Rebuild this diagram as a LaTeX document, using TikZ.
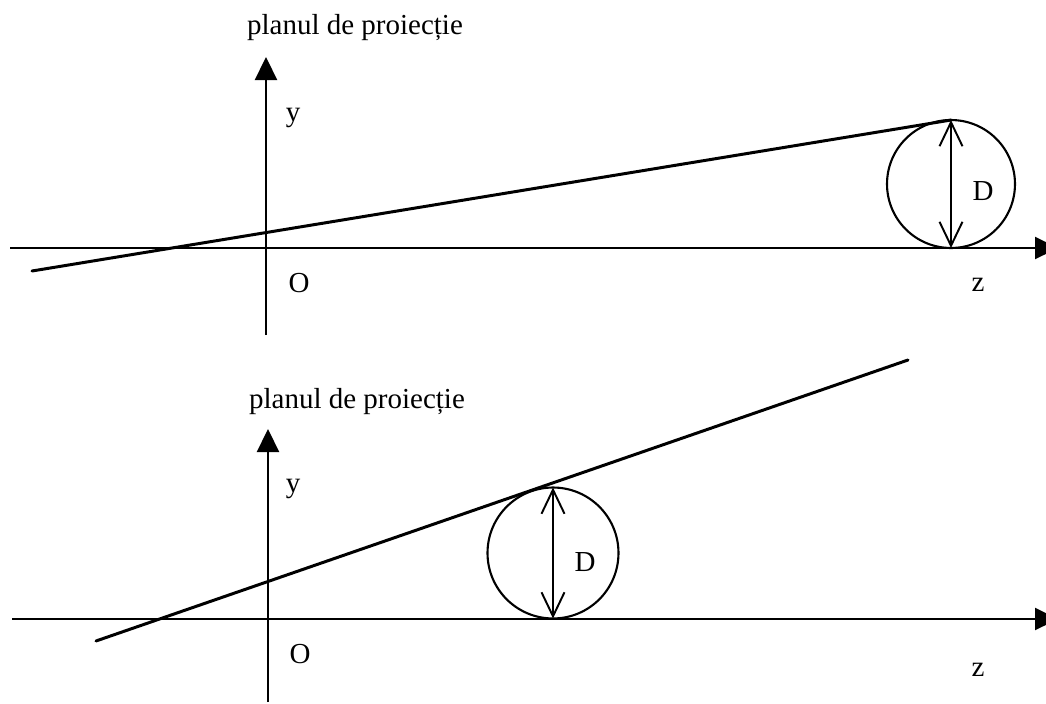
\documentclass[tikz,border=0pt]{standalone}
\usepackage{fontspec}
\setmainfont{Liberation Serif}
\usetikzlibrary{arrows.meta}

\begin{document}
\begin{tikzpicture}[
    x=0.02cm, y=-0.02cm,
    lbl/.style={inner sep=0pt, font=\fontsize{16.5}{20}\selectfont},
    axis/.style={line width=1.3pt, -{Triangle[length=4.6mm, width=4.4mm]}},
    ray/.style={line width=1.7pt, line cap=round},
    ball/.style={circle, draw, line width=1.2pt, minimum size=2.56cm, inner sep=0pt, outer sep=0pt},
    dim/.style={line width=1.1pt, {Straight Barb[length=4.8mm, width=4.6mm]}-{Straight Barb[length=4.8mm, width=4.6mm]}}
]
    \useasboundingbox (0,0) rectangle (1046,704);

    % upper sketch
    \coordinate (zs1) at (10,248);
    \coordinate (ze1) at (1058,248);
    \coordinate (ys1) at (266,335);
    \coordinate (ye1) at (266,57);
    \coordinate (rs1) at (32,271);
    \node[ball] (ball1) at (951,184) {};
    \draw[axis] (zs1) -- (ze1);
    \draw[axis] (ys1) -- (ye1);
    \draw[ray] (rs1) -- (ball1.north);
    \draw[dim] (ball1.north) -- (ball1.south);
    \node[lbl] (plan1) at (355,28) {planul de proiecție};
    \node[lbl] (y1) at (293,118) {y};
    \node[lbl] (o1) at (299,283) {O};
    \node[lbl] (z1) at (978,285) {z};
    \node[lbl] (d1) at (983,191) {D};

    % lower sketch
    \coordinate (zs2) at (12,619);
    \coordinate (ze2) at (1058,619);
    \coordinate (ys2) at (268,702);
    \coordinate (ye2) at (268,429);
    \coordinate (rs2) at (96,641);
    \coordinate (re2) at (908,360);
    \node[ball, minimum size=2.62cm] (ball2) at (553,553) {};
    \draw[axis] (zs2) -- (ze2);
    \draw[axis] (ys2) -- (ye2);
    \draw[ray] (rs2) -- (re2);
    \draw[dim] (ball2.north) -- (ball2.south);
    \node[lbl] (plan2) at (357,402) {planul de proiecție};
    \node[lbl] (y2) at (293,489) {y};
    \node[lbl] (o2) at (300,654) {O};
    \node[lbl] (z2) at (978,670) {z};
    \node[lbl] (d2) at (585,562) {D};
\end{tikzpicture}
\end{document}
